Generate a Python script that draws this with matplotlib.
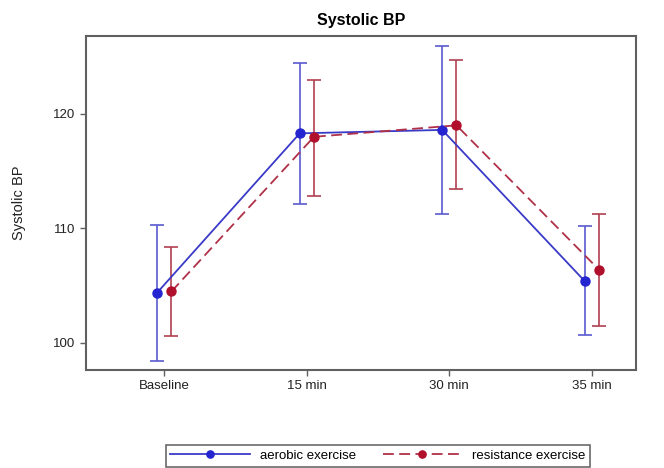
import numpy as np
import matplotlib
matplotlib.use("Agg")
import matplotlib.pyplot as plt

plt.rcParams['font.family'] = ['Liberation Sans', 'DejaVu Sans']

# time points
times = ["Baseline", "15 min", "30 min", "35 min"]

# aerobic exercise: mean, upper, lower
aer_mean = [104.4, 118.3, 118.6, 105.4]
aer_hi = [110.3, 124.4, 125.9, 110.2]
aer_lo = [98.4, 112.1, 111.3, 100.7]

# resistance exercise: mean, upper, lower
res_mean = [104.5, 118.0, 119.0, 106.4]
res_hi = [108.4, 123.0, 124.7, 111.3]
res_lo = [100.6, 112.8, 113.4, 101.5]

blue = "#2424d0"
red = "#b0102c"

fig = plt.figure(figsize=(6.64, 4.68), dpi=100)
ax = fig.add_axes([86/664, 1-370/468, 550/664, 334/468])

x = np.arange(len(times))
off = 0.05

xa = x - off
xr = x + off
ea = [np.array(aer_mean) - np.array(aer_lo), np.array(aer_hi) - np.array(aer_mean)]
er = [np.array(res_mean) - np.array(res_lo), np.array(res_hi) - np.array(res_mean)]

ax.errorbar(xa, aer_mean, yerr=ea, fmt='none', ecolor="#5a5ad0", elinewidth=1.2,
            capsize=5, capthick=1.2, zorder=2)
ax.errorbar(xr, res_mean, yerr=er, fmt='none', ecolor="#b04050", elinewidth=1.2,
            capsize=5, capthick=1.2, zorder=2)
ax.plot(xa, aer_mean, '-', color="#3a3ac8", lw=1.3, marker='o', ms=6.5,
        mfc=blue, mec=blue, label="aerobic exercise", zorder=3)
ax.plot(xr, res_mean, '--', color="#b03048", lw=1.3, dashes=(6, 3), marker='o', ms=6.5,
        mfc=red, mec=red, label="resistance exercise", zorder=3)

ax.set_xlim(-0.55, 3.31)
ax.set_ylim(97.64, 126.8)
ax.set_xticks(x)
ax.set_xticklabels(times)
ax.set_yticks([100, 110, 120])

for s in ax.spines.values():
    s.set_color("#606060")
    s.set_linewidth(1.5)
ax.tick_params(direction='out', length=4, width=1, colors="#606060",
               labelcolor="#222222", labelsize=9.5)
ax.set_ylabel("Systolic BP", fontsize=10.5, color="#222222", labelpad=20)
ax.set_title("Systolic BP", fontsize=11.5, fontweight='bold', pad=8)

leg = fig.legend(loc='lower center', bbox_to_anchor=(378/664, 0.0), ncol=2,
                 frameon=True, fancybox=False, edgecolor="#444444",
                 fontsize=9.5, handlelength=6, columnspacing=2.0,
                 borderpad=0.35, handletextpad=0.8, markerscale=0.8,
                 borderaxespad=0.1)
leg.get_frame().set_linewidth(1.2)

fig.savefig("out.png", dpi=100)
